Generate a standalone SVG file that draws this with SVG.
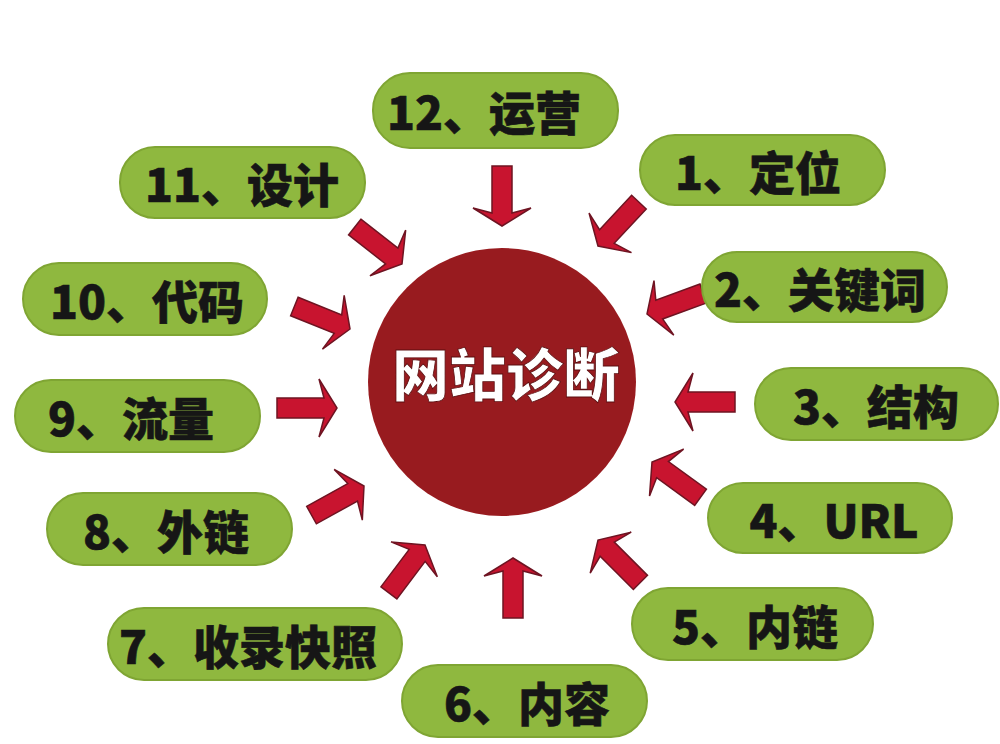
<svg xmlns="http://www.w3.org/2000/svg" xmlns:xlink="http://www.w3.org/1999/xlink" width="1000" height="744" viewBox="0 0 1000 744">
  <style>
    .pill { fill: #8fb83f; stroke: #7fa533; stroke-width: 2; }
    .lbl { font-family: "Noto Sans CJK SC", "Liberation Sans", sans-serif; font-weight: 900; font-size: 46px; fill: #161616; stroke: #161616; stroke-width: 0.6; text-anchor: middle; dominant-baseline: central; }
    .hub { fill: #981b1f; }
    .hubtxt { font-family: "Noto Sans CJK SC", "Liberation Sans", sans-serif; font-weight: 900; font-size: 57px; fill: #ffffff; stroke: #5a0e10; stroke-width: 0.8; text-anchor: middle; dominant-baseline: central; }
    .arr { fill: #c8142f; stroke: #6e1422; stroke-width: 1.5; stroke-linejoin: miter; }
  </style>
  <defs>
    <path id="arrow" class="arr" d="M -60,-10 H -13 L -18,-29 L 0,0 L -18,29 L -13,10 H -60 Z"/>
  </defs>
  <rect x="0" y="0" width="1000" height="744" fill="#ffffff"/>

  <g id="connectors">
    <use xlink:href="#arrow" href="#arrow" transform="translate(502,226) rotate(90)"/>
    <use xlink:href="#arrow" href="#arrow" transform="translate(598,246) rotate(133)"/>
    <use xlink:href="#arrow" href="#arrow" transform="translate(647,314) rotate(160)"/>
    <use xlink:href="#arrow" href="#arrow" transform="translate(675,402) rotate(180)"/>
    <use xlink:href="#arrow" href="#arrow" transform="translate(652,462) rotate(216)"/>
    <use xlink:href="#arrow" href="#arrow" transform="translate(598,540) rotate(225)"/>
    <use xlink:href="#arrow" href="#arrow" transform="translate(513,558) rotate(270)"/>
    <use xlink:href="#arrow" href="#arrow" transform="translate(425,545) rotate(-53)"/>
    <use xlink:href="#arrow" href="#arrow" transform="translate(364,486) rotate(-29)"/>
    <use xlink:href="#arrow" href="#arrow" transform="translate(337,408) rotate(0)"/>
    <use xlink:href="#arrow" href="#arrow" transform="translate(350,329) rotate(22)"/>
    <use xlink:href="#arrow" href="#arrow" transform="translate(402,264) rotate(38)"/>
  </g>

  <g id="hub">
    <circle class="hub" cx="502" cy="382" r="134"/>
    <text class="hubtxt" x="506" y="371">网站诊断</text>
  </g>

  <g id="n12"><rect class="pill" x="373" y="73" width="245" height="75" rx="37"/><text class="lbl" x="484" y="110">12、运营</text></g>
  <g id="n1"><rect class="pill" x="640" y="135" width="245" height="70" rx="35"/><text class="lbl" x="758" y="170">1、定位</text></g>
  <g id="n2"><rect class="pill" x="702" y="252" width="245" height="70" rx="35"/><text class="lbl" x="820" y="287">2、关键词</text></g>
  <g id="n3"><rect class="pill" x="755" y="368" width="243" height="72" rx="36"/><text class="lbl" x="876" y="404">3、结构</text></g>
  <g id="n4"><rect class="pill" x="708" y="483" width="244" height="70" rx="35"/><text class="lbl" x="834" y="518">4、URL</text></g>
  <g id="n5"><rect class="pill" x="632" y="588" width="241" height="72" rx="36"/><text class="lbl" x="755" y="624">5、内链</text></g>
  <g id="n6"><rect class="pill" x="402" y="665" width="245" height="72" rx="36"/><text class="lbl" x="527" y="701">6、内容</text></g>
  <g id="n7"><rect class="pill" x="108" y="608" width="294" height="72" rx="36"/><text class="lbl" x="248" y="644">7、收录快照</text></g>
  <g id="n8"><rect class="pill" x="47" y="493" width="245" height="72" rx="36"/><text class="lbl" x="166" y="529">8、外链</text></g>
  <g id="n9"><rect class="pill" x="15" y="380" width="245" height="72" rx="36"/><text class="lbl" x="131" y="416">9、流量</text></g>
  <g id="n10"><rect class="pill" x="23" y="263" width="244" height="72" rx="36"/><text class="lbl" x="147" y="299">10、代码</text></g>
  <g id="n11"><rect class="pill" x="120" y="147" width="245" height="71" rx="35"/><text class="lbl" x="242" y="182">11、设计</text></g>
</svg>
